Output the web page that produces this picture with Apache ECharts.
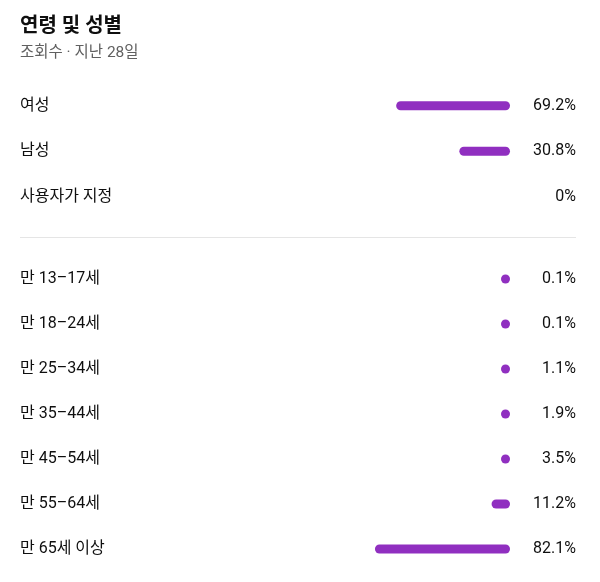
<!DOCTYPE html>
<html>
<head>
<meta charset="utf-8">
<script src="https://cdn.jsdelivr.net/npm/echarts@6/dist/echarts.min.js"></script>
<style>
html,body{margin:0;padding:0;background:#fff;}
#chart{width:600px;height:582px;}
</style>
</head>
<body>
<div id="chart"></div>
<script>
const titleText = '연령 및 성별';
const subtitleText = '조회수 · 지난 28일';
const genderCategories = ['여성', '남성', '사용자가 지정'];
const genderValues = [69.2, 30.8, 0];
const ageCategories = ['만 13–17세', '만 18–24세', '만 25–34세', '만 35–44세', '만 45–54세', '만 55–64세', '만 65세 이상'];
const ageValues = [0.1, 0.1, 1.1, 1.9, 3.5, 11.2, 82.1];

const FONT = 'Roboto, "Noto Sans CJK KR", sans-serif';
const BAR_COLOR = '#902fc0';
const GRID_LEFT = 345.5, GRID_RIGHT = 90;

function pct(v) { return v + '%'; }
function barData(vals) {
  return vals.map(v => v === 0 ? { value: v, itemStyle: { opacity: 0 } } : v);
}

const chart = echarts.init(document.getElementById('chart'), null, { renderer: 'canvas' });

function catAxisLeft(gridIndex, cats) {
  return {
    type: 'category', gridIndex, data: cats, inverse: true, position: 'left',
    axisLine: { show: false }, axisTick: { show: false }, splitLine: { show: false },
    axisLabel: { align: 'left', margin: GRID_LEFT - 20, color: '#0f0f0f', fontSize: 16, fontFamily: FONT }
  };
}
function catAxisRight(gridIndex, vals) {
  return {
    type: 'category', gridIndex, data: vals.map(pct), inverse: true, position: 'right',
    axisLine: { show: false }, axisTick: { show: false }, splitLine: { show: false },
    axisLabel: { align: 'right', margin: 576 - (600 - GRID_RIGHT), color: '#0f0f0f', fontSize: 16, fontFamily: FONT }
  };
}
function valAxis(gridIndex) {
  return { type: 'value', gridIndex, min: 0, max: 100, inverse: true, show: false };
}
function barSeries(idx, vals) {
  return {
    type: 'bar', xAxisIndex: idx, yAxisIndex: idx * 2, data: barData(vals),
    barWidth: 9, barMinHeight: 9, silent: true,
    itemStyle: { color: BAR_COLOR, borderRadius: 4.5 }
  };
}

chart.setOption({
  animation: false,
  backgroundColor: '#fff',
  title: {
    text: titleText, subtext: subtitleText, left: 15, top: 12, itemGap: 8,
    textStyle: { fontSize: 20, fontWeight: 'bold', color: '#0f0f0f', fontFamily: FONT },
    subtextStyle: { fontSize: 15.5, color: '#606060', fontFamily: FONT }
  },
  grid: [
    { left: GRID_LEFT, right: GRID_RIGHT, top: 83, height: 136.5 },
    { left: GRID_LEFT, right: GRID_RIGHT, top: 256.5, height: 315 }
  ],
  xAxis: [valAxis(0), valAxis(1)],
  yAxis: [
    catAxisLeft(0, genderCategories), catAxisRight(0, genderValues),
    catAxisLeft(1, ageCategories), catAxisRight(1, ageValues)
  ],
  series: [barSeries(0, genderValues), barSeries(1, ageValues)],
  graphic: [{
    type: 'line', shape: { x1: 20, y1: 237.5, x2: 576, y2: 237.5 },
    style: { stroke: '#e5e5e5', lineWidth: 1 }, silent: true
  }]
});
</script>
</body>
</html>
